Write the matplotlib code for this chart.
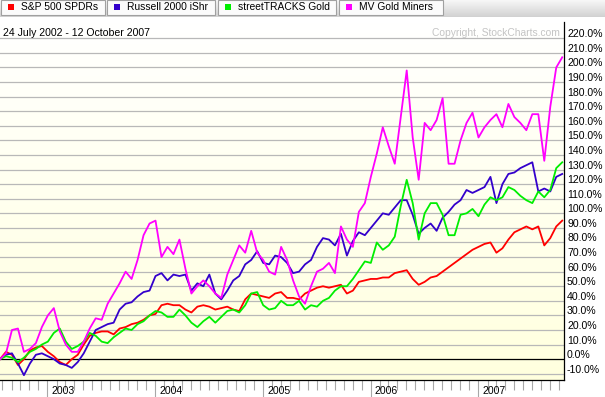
import numpy as np
import pandas as pd
import matplotlib
matplotlib.use('Agg')
import matplotlib.pyplot as plt
import matplotlib.dates as mdates
from matplotlib.patches import Rectangle

plt.rcParams['font.family'] = ['Liberation Sans', 'DejaVu Sans']

# performance (%) since 24 July 2002, every 3 weeks
spy = [0, 5, 3, -4, 0, 6, 8, 9, 5, 2,
       -2, -4, 0, 3, 10, 16, 18, 19, 19, 17,
       21, 22, 24, 25, 27, 30, 31, 37, 38, 37,
       37, 34, 32, 36, 37, 36, 34, 35, 36, 34,
       33, 41, 45, 44, 43, 42, 45, 46, 42, 42,
       41, 45, 47, 49, 50, 49, 50, 51, 45, 47,
       53, 54, 55, 55, 56, 56, 59, 60, 61, 55,
       51, 53, 56, 57, 60, 63, 66, 69, 72, 75,
       77, 79, 80, 73, 76, 82, 87, 89, 91, 89,
       91, 78, 83, 91, 95]
iwm = [0, 3, 4, -3, -11, -3, 3, 4, 2, 0,
       -3, -4, -6, -2, 4, 12, 20, 22, 24, 25,
       34, 38, 39, 43, 46, 47, 57, 59, 54, 58,
       57, 58, 47, 52, 50, 58, 45, 41, 47, 54,
       57, 65, 68, 74, 66, 65, 71, 70, 66, 59,
       60, 65, 68, 77, 83, 82, 78, 86, 71, 81,
       87, 85, 90, 95, 100, 99, 104, 109, 109, 99,
       86, 90, 93, 88, 97, 101, 106, 109, 116, 114,
       116, 118, 125, 107, 120, 127, 128, 131, 133, 135,
       115, 117, 115, 125, 127]
gld = [0, 2, 1, -2, 1, 5, 7, 10, 12, 18,
       21, 12, 7, 9, 12, 18, 16, 12, 11, 15,
       18, 21, 20, 24, 26, 30, 33, 32, 29, 29,
       34, 30, 25, 22, 26, 29, 25, 29, 33, 34,
       32, 37, 45, 46, 37, 34, 35, 40, 37, 37,
       40, 34, 37, 36, 40, 42, 47, 50, 50, 55,
       61, 67, 66, 80, 75, 78, 84, 105, 123, 107,
       82, 100, 107, 107, 99, 85, 85, 99, 100, 103,
       98, 106, 111, 109, 111, 118, 116, 112, 109, 107,
       115, 111, 116, 131, 135]
gdx = [0, 4, 20, 21, 5, 7, 11, 22, 30, 35,
       19, 10, 5, 5, 12, 21, 28, 27, 38, 45,
       52, 60, 55, 68, 85, 93, 95, 70, 77, 72,
       82, 62, 45, 50, 54, 50, 45, 42, 58, 68,
       78, 73, 88, 73, 68, 60, 58, 77, 68, 54,
       43, 38, 50, 60, 62, 66, 59, 91, 82, 77,
       101, 107, 125, 141, 159, 146, 134, 166, 198, 152,
       123, 162, 157, 164, 179, 134, 134, 150, 162, 169,
       152, 159, 164, 168, 159, 175, 166, 162, 157, 168,
       168, 136, 173, 200, 207]

names = ['S&P 500 SPDRs', 'Russell 2000 iShr', 'streetTRACKS Gold', 'MV Gold Miners']
colors = ['#ff0000', '#3300cc', '#00ee00', '#ff00ff']

W, H = 605, 397

def fx(px):
    return px / W

def fy(py):
    return 1 - py / H

fig = plt.figure(figsize=(W / 100, H / 100), dpi=100)
fig.patch.set_facecolor('white')

rect = [0, fy(380), fx(564), fy(22) - fy(380)]

# white -> cream background
bg = fig.add_axes(rect, zorder=0)
g = np.linspace(0, 1, 256)
cream = np.ones((256, 1, 3))
cream[:, 0, 2] = 1 - 0.13 * g
bg.imshow(cream, aspect='auto', extent=[0, 1, 0, 1])
bg.axis('off')

ax = fig.add_axes(rect, zorder=1)
ax.patch.set_alpha(0)

for v in range(-10, 230, 10):
    ax.axhline(v, color='black' if v == 0 else '#b8b8b8', lw=0.9, zorder=1)

dates = pd.date_range('2002-07-24', '2007-10-12', periods=len(spy))
for vals, col in zip([spy, iwm, gld, gdx], colors):
    ax.plot(dates, vals, color=col, lw=1.3, zorder=3)

ax.set_xlim(pd.Timestamp('2002-07-24'), pd.Timestamp('2007-10-18'))
ax.set_ylim(-14.3, 231.2)
ax.set_yticks([])
ax.xaxis.set_major_locator(mdates.YearLocator())
ax.xaxis.set_minor_locator(mdates.MonthLocator())
ax.tick_params(axis='x', which='major', length=13, color='#a8a8a8', width=0.8, labelbottom=False)
ax.tick_params(axis='x', which='minor', length=7.2, color='#a8a8a8', width=0.8)
for s in ['top', 'left']:
    ax.spines[s].set_visible(False)
for s in ['right', 'bottom']:
    ax.spines[s].set_color('black')
    ax.spines[s].set_linewidth(0.9)

for v in range(-10, 230, 10):
    ax.annotate(f'{v:.1f}%', xy=(1, v), xycoords=('axes fraction', 'data'),
                xytext=(3, 1), textcoords='offset pixels', fontsize=7.6,
                ha='left', va='baseline', annotation_clip=False)

for yr in range(2003, 2008):
    ax.annotate(str(yr), xy=(mdates.date2num(pd.Timestamp(f'{yr}-01-01')), 0),
                xycoords=('data', 'axes fraction'), xytext=(4, -14),
                textcoords='offset pixels', fontsize=7.6, ha='left', va='baseline',
                annotation_clip=False)

fig.text(fx(3), fy(33), '24 July 2002 - 12 October 2007', fontsize=7.6, va='center')
fig.text(fx(560), fy(33), 'Copyright, StockCharts.com', fontsize=7.4, va='center',
         ha='right', color='#c4c4c4')

# legend tab bar along the top
bar = fig.add_axes([0, fy(17), 1, 17 / H], zorder=2)
shade = np.linspace(0.97, 0.82, 64)
bar.imshow(np.repeat(shade[:, None, None], 3, axis=2),
           aspect='auto', extent=[0, W, 17, 0])
bar.set_xlim(0, W)
bar.set_ylim(17, 0)
bar.axis('off')
tabs = [(1, 105), (107, 215), (218, 336), (339, 443)]
for (x0, x1), name, col in zip(tabs, names, colors):
    bar.add_patch(Rectangle((x0, 0), x1 - x0, 15, facecolor='#fbfbfb',
                            edgecolor='#a0a0a0', lw=0.8))
    bar.add_patch(Rectangle((x0 + 6.5, 3.5), 6.5, 6.5, facecolor=col, edgecolor='none'))
    bar.text(x0 + 20, 7.5, name, fontsize=7.4, va='center', ha='left')

fig.savefig('out.png', dpi=100)
